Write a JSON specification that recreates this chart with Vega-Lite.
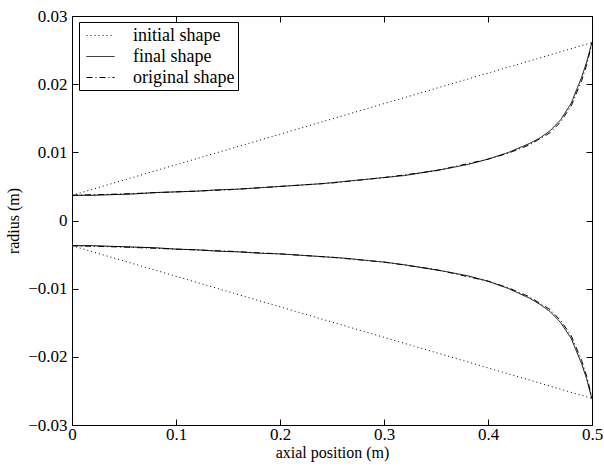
{
  "$schema": "https://vega.github.io/schema/vega-lite/v6.json",
  "width": 520,
  "height": 409,
  "autosize": {"type": "none"},
  "padding": {"left": 72, "top": 16, "right": 12, "bottom": 44},
  "background": "white",
  "config": {
    "font": "Liberation Serif",
    "view": {"stroke": "black", "strokeWidth": 1, "fill": "transparent"},
    "axis": {
      "grid": false,
      "labelColor": "black",
      "titleColor": "black",
      "labelFont": "Liberation Serif",
      "titleFont": "Liberation Serif",
      "labelFontSize": 17,
      "titleFontSize": 16,
      "titleFontWeight": "normal"
    },
    "legend": {
      "labelFont": "Liberation Serif",
      "labelFontSize": 18,
      "labelColor": "black"
    }
  },
  "data": {
    "values": [
      {"x": 0, "r": 0.0037, "series": "initial shape", "branch": "u"},
      {"x": 0.5, "r": 0.0261, "series": "initial shape", "branch": "u"},
      {"x": 0, "r": -0.0037, "series": "initial shape", "branch": "l"},
      {"x": 0.5, "r": -0.0261, "series": "initial shape", "branch": "l"},

      {"x": 0, "r": 0.0037, "series": "final shape", "branch": "u"},
      {"x": 0.02, "r": 0.0037, "series": "final shape", "branch": "u"},
      {"x": 0.04, "r": 0.0038, "series": "final shape", "branch": "u"},
      {"x": 0.06, "r": 0.0039, "series": "final shape", "branch": "u"},
      {"x": 0.08, "r": 0.0041, "series": "final shape", "branch": "u"},
      {"x": 0.1, "r": 0.0042, "series": "final shape", "branch": "u"},
      {"x": 0.12, "r": 0.0043, "series": "final shape", "branch": "u"},
      {"x": 0.14, "r": 0.0045, "series": "final shape", "branch": "u"},
      {"x": 0.16, "r": 0.0046, "series": "final shape", "branch": "u"},
      {"x": 0.18, "r": 0.0048, "series": "final shape", "branch": "u"},
      {"x": 0.2, "r": 0.005, "series": "final shape", "branch": "u"},
      {"x": 0.22, "r": 0.0052, "series": "final shape", "branch": "u"},
      {"x": 0.24, "r": 0.0054, "series": "final shape", "branch": "u"},
      {"x": 0.26, "r": 0.0057, "series": "final shape", "branch": "u"},
      {"x": 0.28, "r": 0.006, "series": "final shape", "branch": "u"},
      {"x": 0.3, "r": 0.0063, "series": "final shape", "branch": "u"},
      {"x": 0.32, "r": 0.0066, "series": "final shape", "branch": "u"},
      {"x": 0.34, "r": 0.0071, "series": "final shape", "branch": "u"},
      {"x": 0.36, "r": 0.0076, "series": "final shape", "branch": "u"},
      {"x": 0.38, "r": 0.0082, "series": "final shape", "branch": "u"},
      {"x": 0.4, "r": 0.009, "series": "final shape", "branch": "u"},
      {"x": 0.42, "r": 0.01, "series": "final shape", "branch": "u"},
      {"x": 0.44, "r": 0.0113, "series": "final shape", "branch": "u"},
      {"x": 0.45, "r": 0.0121, "series": "final shape", "branch": "u"},
      {"x": 0.46, "r": 0.0132, "series": "final shape", "branch": "u"},
      {"x": 0.47, "r": 0.0148, "series": "final shape", "branch": "u"},
      {"x": 0.48, "r": 0.0172, "series": "final shape", "branch": "u"},
      {"x": 0.49, "r": 0.021, "series": "final shape", "branch": "u"},
      {"x": 0.495, "r": 0.0233, "series": "final shape", "branch": "u"},
      {"x": 0.5, "r": 0.0262, "series": "final shape", "branch": "u"},

      {"x": 0, "r": -0.0037, "series": "final shape", "branch": "l"},
      {"x": 0.02, "r": -0.0037, "series": "final shape", "branch": "l"},
      {"x": 0.04, "r": -0.0038, "series": "final shape", "branch": "l"},
      {"x": 0.06, "r": -0.0039, "series": "final shape", "branch": "l"},
      {"x": 0.08, "r": -0.004, "series": "final shape", "branch": "l"},
      {"x": 0.1, "r": -0.0042, "series": "final shape", "branch": "l"},
      {"x": 0.12, "r": -0.0043, "series": "final shape", "branch": "l"},
      {"x": 0.14, "r": -0.0045, "series": "final shape", "branch": "l"},
      {"x": 0.16, "r": -0.0046, "series": "final shape", "branch": "l"},
      {"x": 0.18, "r": -0.0048, "series": "final shape", "branch": "l"},
      {"x": 0.2, "r": -0.0049, "series": "final shape", "branch": "l"},
      {"x": 0.22, "r": -0.0051, "series": "final shape", "branch": "l"},
      {"x": 0.24, "r": -0.0053, "series": "final shape", "branch": "l"},
      {"x": 0.26, "r": -0.0055, "series": "final shape", "branch": "l"},
      {"x": 0.28, "r": -0.0058, "series": "final shape", "branch": "l"},
      {"x": 0.3, "r": -0.0061, "series": "final shape", "branch": "l"},
      {"x": 0.32, "r": -0.0065, "series": "final shape", "branch": "l"},
      {"x": 0.34, "r": -0.007, "series": "final shape", "branch": "l"},
      {"x": 0.36, "r": -0.0075, "series": "final shape", "branch": "l"},
      {"x": 0.38, "r": -0.0081, "series": "final shape", "branch": "l"},
      {"x": 0.4, "r": -0.0089, "series": "final shape", "branch": "l"},
      {"x": 0.42, "r": -0.01, "series": "final shape", "branch": "l"},
      {"x": 0.44, "r": -0.0114, "series": "final shape", "branch": "l"},
      {"x": 0.45, "r": -0.0123, "series": "final shape", "branch": "l"},
      {"x": 0.46, "r": -0.0134, "series": "final shape", "branch": "l"},
      {"x": 0.47, "r": -0.015, "series": "final shape", "branch": "l"},
      {"x": 0.48, "r": -0.0173, "series": "final shape", "branch": "l"},
      {"x": 0.49, "r": -0.021, "series": "final shape", "branch": "l"},
      {"x": 0.495, "r": -0.0233, "series": "final shape", "branch": "l"},
      {"x": 0.5, "r": -0.0262, "series": "final shape", "branch": "l"},

      {"x": 0, "r": 0.0037, "series": "original shape", "branch": "u"},
      {"x": 0.05, "r": 0.0039, "series": "original shape", "branch": "u"},
      {"x": 0.1, "r": 0.0042, "series": "original shape", "branch": "u"},
      {"x": 0.15, "r": 0.0045, "series": "original shape", "branch": "u"},
      {"x": 0.2, "r": 0.005, "series": "original shape", "branch": "u"},
      {"x": 0.25, "r": 0.0055, "series": "original shape", "branch": "u"},
      {"x": 0.3, "r": 0.0063, "series": "original shape", "branch": "u"},
      {"x": 0.35, "r": 0.0073, "series": "original shape", "branch": "u"},
      {"x": 0.4, "r": 0.009, "series": "original shape", "branch": "u"},
      {"x": 0.42, "r": 0.0099, "series": "original shape", "branch": "u"},
      {"x": 0.44, "r": 0.0111, "series": "original shape", "branch": "u"},
      {"x": 0.46, "r": 0.0129, "series": "original shape", "branch": "u"},
      {"x": 0.47, "r": 0.0145, "series": "original shape", "branch": "u"},
      {"x": 0.48, "r": 0.0168, "series": "original shape", "branch": "u"},
      {"x": 0.49, "r": 0.0205, "series": "original shape", "branch": "u"},
      {"x": 0.495, "r": 0.0229, "series": "original shape", "branch": "u"},
      {"x": 0.5, "r": 0.026, "series": "original shape", "branch": "u"},

      {"x": 0, "r": -0.0037, "series": "original shape", "branch": "l"},
      {"x": 0.05, "r": -0.0039, "series": "original shape", "branch": "l"},
      {"x": 0.1, "r": -0.0042, "series": "original shape", "branch": "l"},
      {"x": 0.15, "r": -0.0045, "series": "original shape", "branch": "l"},
      {"x": 0.2, "r": -0.0049, "series": "original shape", "branch": "l"},
      {"x": 0.25, "r": -0.0054, "series": "original shape", "branch": "l"},
      {"x": 0.3, "r": -0.0061, "series": "original shape", "branch": "l"},
      {"x": 0.35, "r": -0.0072, "series": "original shape", "branch": "l"},
      {"x": 0.4, "r": -0.0089, "series": "original shape", "branch": "l"},
      {"x": 0.42, "r": -0.0099, "series": "original shape", "branch": "l"},
      {"x": 0.44, "r": -0.0112, "series": "original shape", "branch": "l"},
      {"x": 0.46, "r": -0.0131, "series": "original shape", "branch": "l"},
      {"x": 0.47, "r": -0.0147, "series": "original shape", "branch": "l"},
      {"x": 0.48, "r": -0.0169, "series": "original shape", "branch": "l"},
      {"x": 0.49, "r": -0.0205, "series": "original shape", "branch": "l"},
      {"x": 0.495, "r": -0.0229, "series": "original shape", "branch": "l"},
      {"x": 0.5, "r": -0.026, "series": "original shape", "branch": "l"}
    ]
  },
  "layer": [
    {
      "mark": {"type": "line", "color": "black", "strokeWidth": 1, "clip": true},
      "encoding": {
        "x": {
          "field": "x", "type": "quantitative",
          "scale": {"domain": [0, 0.5], "nice": false, "zero": false},
          "axis": {"values": [0, 0.1, 0.2, 0.3, 0.4, 0.5], "format": "~g", "title": "axial position (m)", "labelPadding": 1, "titlePadding": 2, "labelFlush": false, "zindex": 1, "domain": false, "ticks": true, "tickSize": 6, "offset": -6, "tickColor": "black", "tickWidth": 1, "tickOpacity": 1}
        },
        "y": {
          "field": "r", "type": "quantitative",
          "scale": {"domain": [-0.03, 0.03], "nice": false, "zero": false},
          "axis": {"values": [-0.03, -0.02, -0.01, 0, 0.01, 0.02, 0.03], "format": "~g", "title": "radius (m)", "labelPadding": 5, "titlePadding": 6, "labelFlush": false, "zindex": 1, "domain": false, "ticks": true, "tickSize": 6, "offset": -6, "tickColor": "black", "tickWidth": 1, "tickOpacity": 1}
        },
        "detail": {"field": "branch"},
        "strokeDash": {
          "field": "series", "type": "nominal",
          "scale": {
            "domain": ["initial shape", "final shape", "original shape"],
            "range": [[1, 3], [1, 0], [6, 3, 1, 3]]
          },
          "legend": {
            "title": null,
            "orient": "none",
            "legendX": 7,
            "legendY": 6,
            "strokeColor": "black",
            "fillColor": "white",
            "padding": 3,
            "symbolType": "M-1.4,0H1.4",
            "symbolSize": 400,
            "symbolStrokeWidth": 1,
            "symbolStrokeColor": "black",
            "symbolFillColor": "transparent",
            "symbolOffset": 8,
            "labelOffset": 22,
            "rowPadding": 1
          }
        }
      }
    },
    {
      "mark": {"type": "point", "opacity": 0},
      "encoding": {
        "x": {
          "field": "x", "type": "quantitative",
          "scale": {"domain": [0, 0.5], "nice": false, "zero": false},
          "axis": {"orient": "top", "values": [0, 0.1, 0.2, 0.3, 0.4, 0.5], "labels": false, "title": null, "zindex": 1, "domain": false, "ticks": true, "tickSize": 6, "offset": -6, "tickColor": "black", "tickWidth": 1, "tickOpacity": 1}
        },
        "y": {
          "field": "r", "type": "quantitative",
          "scale": {"domain": [-0.03, 0.03], "nice": false, "zero": false},
          "axis": {"orient": "right", "values": [-0.03, -0.02, -0.01, 0, 0.01, 0.02, 0.03], "labels": false, "title": null, "zindex": 1, "domain": false, "ticks": true, "tickSize": 6, "offset": -6, "tickColor": "black", "tickWidth": 1, "tickOpacity": 1}
        }
      }
    }
  ],
  "resolve": {"axis": {"x": "independent", "y": "independent"}}
}
